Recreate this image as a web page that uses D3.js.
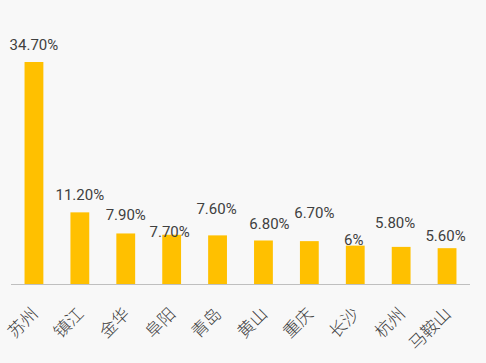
<!DOCTYPE html>
<html>
<head>
<meta charset="utf-8">
<script src="https://cdn.jsdelivr.net/npm/d3@7"></script>
<style>
  body { margin: 0; background: #f8f8f8; }
  svg { display: block; background: #f8f8f8; }
</style>
</head>
<body>
<svg width="486" height="363"></svg>
<script>
// data
var cities = ["苏州", "镇江", "金华", "阜阳", "青岛", "黄山", "重庆", "长沙", "杭州", "马鞍山"];
var shares = [34.7, 11.2, 7.9, 7.7, 7.6, 6.8, 6.7, 6, 5.8, 5.6];
var shareLabels = ["34.70%", "11.20%", "7.90%", "7.70%", "7.60%", "6.80%", "6.70%", "6%", "5.80%", "5.60%"];

// hand-dragged data labels in the original: [dx, lift above bar top]
var labelNudge = [[0, 12], [0, 12.5], [0, 13.5], [-2, -2.5], [-1, 21.5], [6, 11.5], [5, 23.5], [-1.5, 0.5], [-6, 19], [-1.5, 7.5]];

var svg = d3.select("svg");
var baseline = 284;

// scales
var x = d3.scaleBand()
    .domain(cities)
    .range([11, 470])
    .paddingInner(0.59)
    .paddingOuter(0.295);

var y = d3.scaleLinear()
    .domain([0, 34.7])
    .range([baseline, 62]);

var rows = cities.map(function(c, i) {
  return {city: c, value: shares[i], label: shareLabels[i], nudge: labelNudge[i]};
});

// bars
svg.selectAll(".bar")
  .data(rows)
  .enter().append("rect")
    .attr("class", "bar")
    .attr("x", function(d) { return x(d.city); })
    .attr("y", function(d) { return y(d.value); })
    .attr("width", x.bandwidth())
    .attr("height", function(d) { return baseline - y(d.value); })
    .attr("fill", "#ffc000");

// value labels
svg.selectAll(".val")
  .data(rows)
  .enter().append("text")
    .attr("class", "val")
    .attr("x", function(d) { return x(d.city) + x.bandwidth() / 2 + d.nudge[0]; })
    .attr("y", function(d) { return y(d.value) - d.nudge[1]; })
    .attr("text-anchor", "middle")
    .style("font-family", "Roboto, sans-serif")
    .style("font-size", "15px")
    .style("fill", "#404040")
    .text(function(d) { return d.label; });

// x axis
var xAxis = svg.append("g")
    .attr("transform", "translate(0," + baseline + ")")
    .call(d3.axisBottom(x).tickSize(0).tickPadding(0));

xAxis.select(".domain")
    .attr("d", "M11,0.5H470")
    .attr("stroke", "#bfbfbf")
    .attr("stroke-width", 1);

xAxis.selectAll(".tick text")
    .attr("y", 0)
    .attr("dy", 0)
    .attr("text-anchor", "end")
    .attr("transform", "translate(5,31) rotate(-45)")
    .style("font-family", "'Noto Sans CJK SC', sans-serif")
    .style("font-weight", 300)
    .style("font-size", "17px")
    .style("fill", "#404040");
</script>
</body>
</html>
